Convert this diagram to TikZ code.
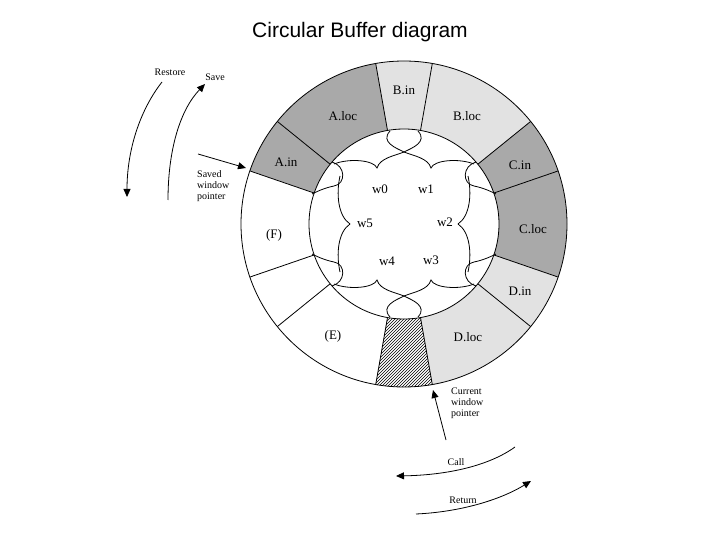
\documentclass[tikz,border=0pt]{standalone}
\usepackage{fontspec}
\setmainfont{Liberation Serif}
\newfontfamily\titlefont{Liberation Sans}
\usetikzlibrary{patterns,arrows.meta}
\definecolor{dk}{HTML}{A9A9A9}
\definecolor{lt}{HTML}{E2E2E2}
\begin{document}
\begin{tikzpicture}[x=1pt,y=-1pt,
  lbl/.style={font=\fontsize{13}{15}\selectfont},
  sml/.style={font=\fontsize{10}{11}\selectfont,align=left},
  arr/.style={thick,-{Triangle[length=8pt,width=7pt]}},
  wig/.style={thick}]
\useasboundingbox (0,0) rectangle (720,540);
\node[font=\titlefont\fontsize{21}{25}\selectfont] (title) at (360,32) {Circular Buffer diagram};
\begin{scope}[shift={(404,224)},yscale=-1]
\def\R{163}\def\r{95}
\foreach \a/\b/\c in {80/100/lt,100/141/dk,141/161/dk,39/80/lt,19/39/dk,-19/19/dk,-39/-19/lt,-80/-39/lt,161/199/white,199/219/white,219/260/white}{
  \fill[\c] (\a:\R) arc(\a:\b:\R) -- (\b:\r) arc(\b:\a:\r) -- cycle;}
\fill[white] (260:\R) arc(260:280:\R) -- (280:\r) arc(280:260:\r) -- cycle;
\path[pattern=north east lines] (260:\R) arc(260:280:\R) -- (280:\r) arc(280:260:\r) -- cycle;
\draw[thick] (0,0) circle (\R);
\draw[thick] (0,0) circle (\r);
\foreach \a in {80,100,141,161,199,219,260,280,321,341,19,39}{\draw[thick] (\a:\r) -- (\a:\R);}
\end{scope}
\begin{scope}[shift={(404,224)}]
\foreach \s in {1,-1}{
 \foreach \t in {1,-1}{
  \begin{scope}[xscale=\s,yscale=\t]
  \draw[wig] (-14,-93) .. controls (-24,-82) and (-8,-76) .. (0,-72) .. controls (10,-68) and (24,-66) .. (27,-56) .. controls (30,-64) and (55,-66) .. (70,-60);
  \draw[wig] (72,-62) .. controls (58,-58) and (58,-40) .. (70,-38) .. controls (80,-36) and (88,-32) .. (92,-30);
  \draw[wig] (64,-48) .. controls (68,-30) and (66,-8) .. (54,0);
  \end{scope}}}
\end{scope}
\node[lbl] (bin) at (404,90) {B.in};
\node[lbl] (aloc) at (343,116) {A.loc};
\node[lbl] (bloc) at (467,116) {B.loc};
\node[lbl] (ain) at (286,162) {A.in};
\node[lbl] (cin) at (520,165) {C.in};
\node[lbl] (cloc) at (533,229) {C.loc};
\node[lbl] (din) at (520,291) {D.in};
\node[lbl] (dloc) at (468,337) {D.loc};
\node[lbl] (e) at (333,336) {(E)};
\node[lbl] (f) at (274,235) {(F)};
\node[lbl] (w0) at (380,189) {w0};
\node[lbl] (w1) at (426,189) {w1};
\node[lbl] (w5) at (365,223) {w5};
\node[lbl] (w2) at (445,222) {w2};
\node[lbl] (w4) at (387,261) {w4};
\node[lbl] (w3) at (431,260) {w3};
\node[sml] (restore) at (170,72) {Restore};
\node[sml] (save) at (215,77) {Save};
\node[sml,anchor=north west,inner sep=0pt] (swp) at (197,170) {Saved\\window\\pointer};
\node[sml,anchor=north west,inner sep=0pt] (cwp) at (451,388) {Current\\window\\pointer};
\node[sml] (call) at (456,462) {Call};
\node[sml] (ret) at (463,500) {Return};
\coordinate (r1) at (162,82); \coordinate (r2) at (127,197);
\coordinate (s1) at (168,200); \coordinate (s2) at (205,84);
\coordinate (p1) at (198,154); \coordinate (p2) at (246,168);
\coordinate (c1) at (446,440); \coordinate (c2) at (433,390);
\coordinate (k1) at (515,447); \coordinate (k2) at (396,476);
\coordinate (t1) at (416,514); \coordinate (t2) at (531,481);
\draw[arr] (r1) .. controls (140,110) and (127,150) .. (r2);
\draw[arr] (s1) .. controls (168,150) and (180,110) .. (s2);
\draw[arr] (p1) -- (p2);
\draw[arr] (c1) -- (c2);
\draw[arr] (k1) .. controls (490,465) and (450,475) .. (k2);
\draw[arr] (t1) .. controls (460,512) and (500,500) .. (t2);
\end{tikzpicture}
\end{document}
